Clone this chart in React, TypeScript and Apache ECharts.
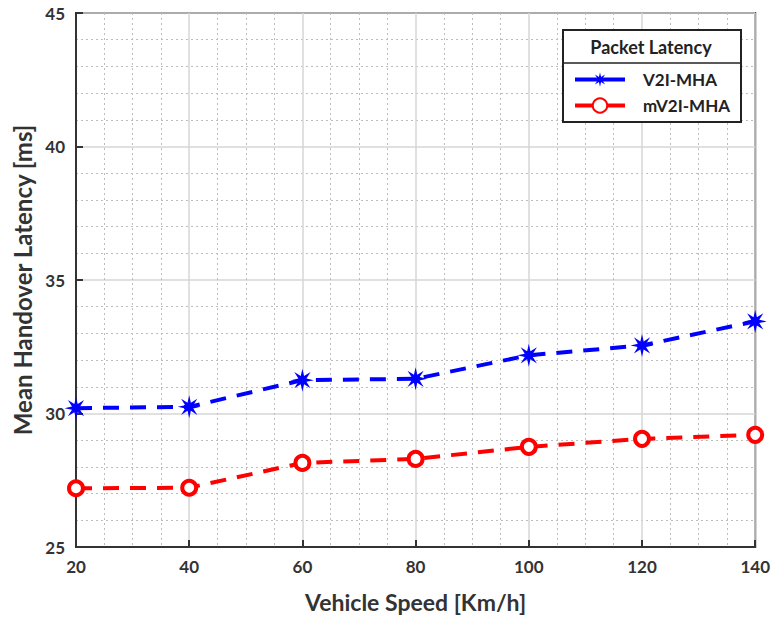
import React, { useEffect, useRef } from "react";
import * as echarts from "echarts";

const speeds = [20, 40, 60, 80, 100, 120, 140];
const v2iMha = [30.2, 30.25, 31.25, 31.3, 32.18, 32.55, 33.45];
const mv2iMha = [27.2, 27.22, 28.15, 28.3, 28.75, 29.05, 29.2];
const seriesNames = ["V2I-MHA", "mV2I-MHA"];
const legendTitle = "Packet Latency";
const xName = "Vehicle Speed [Km/h]";
const yName = "Mean Handover Latency [ms]";

function starPath(): string {
  const pts: string[] = [];
  for (let i = 0; i < 16; i++) {
    const a = (i * Math.PI) / 8;
    const r = i % 2 === 0 ? 10 : 3.8;
    const x = 10 + r * Math.cos(a);
    const y = 10 + r * Math.sin(a);
    pts.push(`${i === 0 ? "M" : "L"}${x.toFixed(2)} ${y.toFixed(2)}`);
  }
  return "path://" + pts.join(" ") + " Z";
}

export default function App() {
  const ref = useRef<HTMLDivElement>(null);
  useEffect(() => {
    if (!ref.current) return;
    const chart = echarts.init(ref.current, null, { renderer: "svg" });
    const font = "Lato, 'Open Sans', sans-serif";
    const mk = (vals: number[]) => speeds.map((s, i) => [s, vals[i]]);
    const axisCommon = {
      type: "value",
      nameLocation: "middle",
      axisLine: { show: true, lineStyle: { color: "#333", width: 2 } },
      axisTick: { show: true, inside: true, length: 7, lineStyle: { color: "#333", width: 2 } },
      axisLabel: { fontSize: 17, fontWeight: "bold", color: "#333", margin: 11, fontFamily: font },
      splitLine: { show: true, lineStyle: { color: "#d6d6d6", width: 1.5 } },
      minorSplitLine: { show: true, lineStyle: { color: "#bdbdbd", type: [2, 3], width: 1 } },
    };
    chart.setOption({
      animation: false,
      backgroundColor: "#fff",
      textStyle: { fontFamily: font },
      grid: {
        left: 76,
        right: 16,
        top: 13,
        bottom: 68,
        show: true,
        borderColor: "#333",
        borderWidth: 2,
        backgroundColor: "transparent",
      },
      xAxis: {
        ...axisCommon,
        min: 20,
        max: 140,
        interval: 20,
        name: xName,
        nameGap: 43,
        nameTextStyle: { fontSize: 23, fontWeight: "bold", color: "#333", fontFamily: font },
        minorTick: { show: false, splitNumber: 4 },
      },
      yAxis: {
        ...axisCommon,
        min: 25,
        max: 45,
        interval: 5,
        name: yName,
        nameGap: 40,
        nameTextStyle: { fontSize: 24, fontWeight: "bold", color: "#333", fontFamily: font },
        minorTick: { show: false, splitNumber: 5 },
      },
      legend: {
        show: true,
        orient: "vertical",
        left: 568,
        top: 66,
        z: 20,
        itemGap: 9,
        itemWidth: 50,
        itemHeight: 18,
        data: [
          { name: seriesNames[0], lineStyle: { width: 4, type: "solid" } },
          { name: seriesNames[1], lineStyle: { width: 4, type: "solid" } },
        ],
        textStyle: { fontSize: 17, fontWeight: "bold", color: "#222", padding: [0, 0, 0, 13], fontFamily: font },
      },
      graphic: [
        {
          type: "rect",
          shape: { x: 563, y: 30, width: 178, height: 92 },
          style: { fill: "#fff", stroke: "#222", lineWidth: 2 },
          z: 5,
        },
        {
          type: "line",
          shape: { x1: 563, y1: 63, x2: 741, y2: 63 },
          style: { stroke: "#222", lineWidth: 1.5 },
          z: 6,
        },
        {
          type: "text",
          x: 651,
          y: 47,
          style: {
            text: legendTitle,
            fill: "#222",
            font: `bold 18px ${font}`,
            textAlign: "center",
            textVerticalAlign: "middle",
          },
          z: 6,
        },
      ],
      series: [
        {
          name: seriesNames[0],
          type: "line",
          data: mk(v2iMha),
          symbol: starPath(),
          symbolSize: 23,
          color: "#0000ff",
          itemStyle: { color: "#0000ff" },
          lineStyle: { color: "#0000ff", width: 4, type: [16, 11] },
          z: 3,
        },
        {
          name: seriesNames[1],
          type: "line",
          data: mk(mv2iMha),
          symbol: "circle",
          symbolSize: 14,
          color: "#ff0000",
          itemStyle: { color: "#fff", borderColor: "#ff0000", borderWidth: 4 },
          lineStyle: { color: "#ff0000", width: 4, type: [16, 11] },
          z: 3,
        },
      ],
    });
    return () => chart.dispose();
  }, []);
  return <div ref={ref} style={{ width: 773, height: 618, position: "absolute", left: 0, top: 0 }} />;
}
